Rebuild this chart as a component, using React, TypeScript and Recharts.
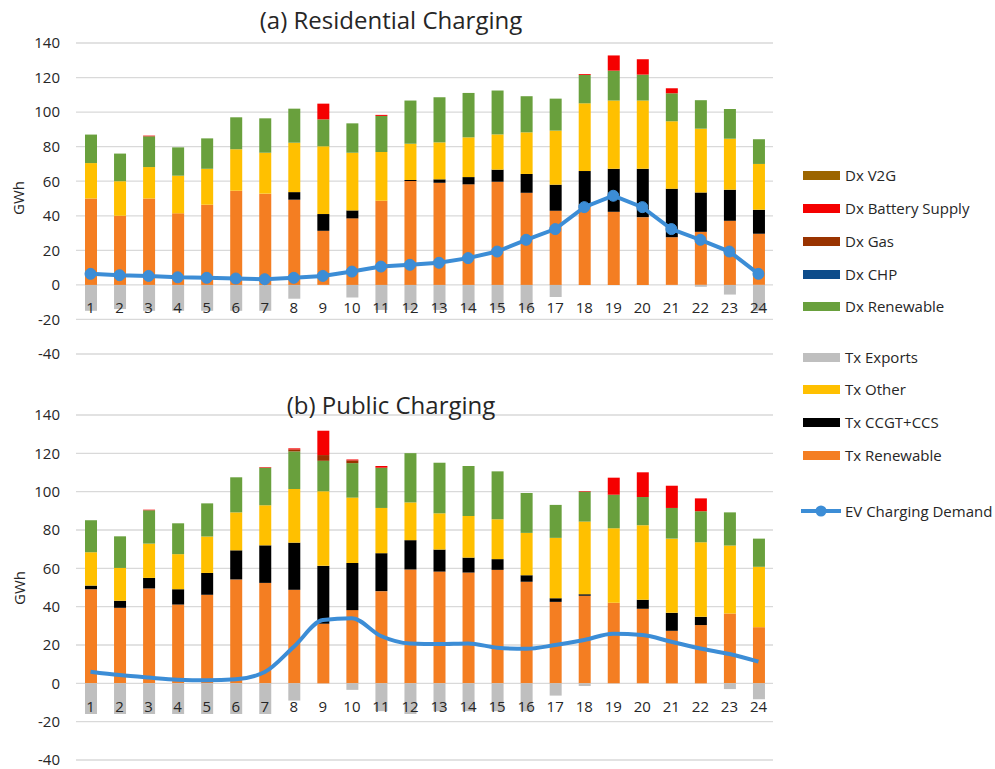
import React from 'react';
import { ComposedChart, Bar, Line, XAxis, YAxis, CartesianGrid } from 'recharts';

const hours = ['1','2','3','4','5','6','7','8','9','10','11','12','13','14','15','16','17','18','19','20','21','22','23','24'];
const yTicks = [-40, -20, 0, 20, 40, 60, 80, 100, 120, 140];

// (a) Residential Charging
const resTxRenewable = [50, 40, 50, 41.4, 46.4, 54.5, 52.8, 49.3, 31.3, 38.5, 48.7, 60.1, 59.1, 58.2, 59.7, 53.3, 42.9, 45.4, 42.3, 39.2, 27.6, 30.7, 37.1, 29.6];
const resTxCCGT = [0, 0, 0, 0, 0, 0, 0, 4.4, 9.7, 4.6, 0, 0.6, 2.0, 4.2, 7.0, 10.9, 15.1, 20.5, 24.9, 28, 28.1, 22.8, 18, 13.9];
const resTxOther = [20.5, 20, 18.2, 21.8, 20.8, 24, 23.7, 28.6, 39.2, 33.4, 28.2, 21, 21.4, 23, 20.4, 24.1, 31.3, 39.2, 39.5, 39.5, 39, 36.9, 29.5, 26.5];
const resTxExports = [-15, -14, -15, -15, -15, -15, -15, -8, 0, -7.3, -14.5, -14.5, -14.5, -14.5, -14.5, -14.5, -7, 0, 0, 0, 0, -1.1, -5.6, -15];
const resDxRenewable = [16.5, 16, 17.8, 16.4, 17.6, 18.5, 19.9, 19.7, 15.6, 17, 20.9, 25, 26.1, 25.7, 25.4, 20.9, 18.5, 16.4, 17.3, 15, 16.2, 16.5, 17.2, 14.3];
const resDxCHP = [0, 0, 0, 0, 0, 0, 0, 0, 0, 0, 0, 0, 0, 0, 0, 0, 0, 0, 0, 0, 0, 0, 0, 0];
const resDxGas = [0, 0, 0, 0, 0, 0, 0, 0, 0, 0, 0, 0, 0, 0, 0, 0, 0, 0, 0, 0, 0, 0, 0, 0];
const resDxBattery = [0, 0, 0.4, 0, 0, 0, 0, 0, 9.1, 0, 0.6, 0, 0, 0, 0, 0, 0, 0.5, 8.8, 8.9, 2.9, 0, 0, 0];
const resDxV2G = [0, 0, 0, 0, 0, 0, 0, 0, 0, 0, 0, 0, 0, 0, 0, 0, 0, 0, 0, 0, 0, 0, 0, 0];
const resDemand = [6.4, 5.6, 5.2, 4.4, 4.1, 3.7, 3.3, 4.1, 5.2, 7.7, 10.6, 11.6, 12.8, 15.5, 19.3, 26.1, 32.3, 45, 51.6, 45, 32.3, 26.1, 19.3, 6.4];

// (b) Public Charging
const pubTxRenewable = [49.1, 39.4, 49.5, 41.1, 46.2, 54.2, 52.4, 48.8, 31.1, 38.2, 48.1, 59.4, 58.3, 57.8, 59.2, 53, 42.5, 45.7, 42, 38.9, 27.4, 30.4, 36.5, 29.3];
const pubTxCCGT = [1.9, 3.7, 5.5, 8, 11.4, 15.2, 19.6, 24.6, 30.2, 24.6, 19.8, 15.3, 11.5, 7.8, 5.6, 3.4, 1.9, 0.8, 0, 4.7, 9.4, 4.3, 0, 0];
const pubTxOther = [17.4, 17.1, 17.9, 18.3, 19, 19.8, 20.9, 28, 38.9, 34.1, 23.6, 19.7, 18.9, 21.7, 20.8, 22.1, 31.5, 37.9, 38.9, 38.9, 38.7, 38.9, 35.4, 31.5];
const pubTxExports = [-16, -16, -16, -16, -16, -16, -16, -9, 0, -3.4, -14.5, -16, -14.5, -14.5, -14.5, -14.5, -6.4, -1.4, 0, 0, 0, 0, -3, -8.3];
const pubDxRenewable = [16.7, 16.5, 17.4, 16.1, 17.3, 18.3, 19.6, 19.6, 15.9, 18, 21, 25.7, 26.4, 26.1, 25, 20.8, 17.2, 15.6, 17.5, 14.7, 16, 16.2, 17.3, 14.7];
const pubDxCHP = [0, 0, 0, 0, 0, 0, 0, 0, 0, 0, 0, 0, 0, 0, 0, 0, 0, 0, 0, 0, 0, 0, 0, 0];
const pubDxGas = [0, 0, 0, 0, 0, 0, 0, 1.0, 3.0, 1.4, 0, 0, 0, 0, 0, 0, 0, 0, 0, 0, 0, 0, 0, 0];
const pubDxBattery = [0, 0, 0.3, 0, 0, 0, 0.3, 0.6, 12.7, 0.5, 0.9, 0, 0, 0, 0, 0, 0, 0.3, 8.9, 12.9, 11.6, 6.7, 0, 0];
const pubDxV2G = [0, 0, 0, 0, 0, 0, 0, 0, 0, 0, 0, 0, 0, 0, 0, 0, 0, 0, 0, 0, 0, 0, 0, 0];
const pubDemand = [6.1, 4.3, 3.0, 1.9, 1.6, 2.1, 5.9, 19.1, 33, 34, 24.7, 20.8, 20.5, 20.8, 18.6, 18, 20, 22.6, 25.9, 25.2, 21.7, 18.2, 15.3, 11.3];

const COLORS = {
  v2g: '#9C6500',
  battery: '#F50000',
  gas: '#993300',
  chp: '#0D4C8A',
  dxRen: '#69A03D',
  exports: '#BFBFBF',
  other: '#FFC000',
  ccgt: '#000000',
  txRen: '#F47E22',
  demand: '#3C8DD6',
};

const FONT = "'Open Sans', 'Noto Sans', sans-serif";

function build(txRen: number[], ccgt: number[], other: number[], exp: number[], dxRen: number[], chp: number[], gas: number[], batt: number[], v2g: number[], demand: number[]) {
  return hours.map((h, i) => ({
    hour: h,
    txRen: txRen[i],
    ccgt: ccgt[i],
    other: other[i],
    exports: exp[i],
    dxRen: dxRen[i],
    chp: chp[i],
    gas: gas[i],
    battery: batt[i],
    v2g: v2g[i],
    demand: demand[i],
  }));
}

const resData = build(resTxRenewable, resTxCCGT, resTxOther, resTxExports, resDxRenewable, resDxCHP, resDxGas, resDxBattery, resDxV2G, resDemand);
const pubData = build(pubTxRenewable, pubTxCCGT, pubTxOther, pubTxExports, pubDxRenewable, pubDxCHP, pubDxGas, pubDxBattery, pubDxV2G, pubDemand);

function makeTick(offset: number) {
  return (props: any) => {
    const { x, y, payload } = props;
    return (
      <text x={x} y={y - offset} textAnchor="middle" dominantBaseline="central" fontSize={15} fill="#262626" fontFamily={FONT}>
        {payload.value}
      </text>
    );
  };
}

type PanelProps = {
  data: any[];
  top: number;
  height: number;
  marginTop: number;
  axisHeight: number;
  tickOffset: number;
  smooth: boolean;
};

function Panel({ data, top, height, marginTop, axisHeight, tickOffset, smooth }: PanelProps) {
  return (
    <div style={{ position: 'absolute', left: 0, top }}>
      <ComposedChart
        width={790}
        height={height}
        data={data}
        stackOffset="sign"
        barSize={12}
        margin={{ top: marginTop, right: 17, bottom: 0, left: 16 }}
      >
        <CartesianGrid vertical={false} stroke="#D9D9D9" strokeWidth={1.3} />
        <YAxis
          domain={[-40, 140]}
          ticks={yTicks}
          width={60}
          axisLine={false}
          tickLine={false}
          tickSize={0}
          tickMargin={16}
          tick={{ fontSize: 15, fill: '#262626', fontFamily: FONT }}
        />
        <Bar dataKey="txRen" stackId="s" fill={COLORS.txRen} isAnimationActive={false} />
        <Bar dataKey="ccgt" stackId="s" fill={COLORS.ccgt} isAnimationActive={false} />
        <Bar dataKey="other" stackId="s" fill={COLORS.other} isAnimationActive={false} />
        <Bar dataKey="exports" stackId="s" fill={COLORS.exports} isAnimationActive={false} />
        <Bar dataKey="dxRen" stackId="s" fill={COLORS.dxRen} isAnimationActive={false} />
        <Bar dataKey="chp" stackId="s" fill={COLORS.chp} isAnimationActive={false} />
        <Bar dataKey="gas" stackId="s" fill={COLORS.gas} isAnimationActive={false} />
        <Bar dataKey="battery" stackId="s" fill={COLORS.battery} isAnimationActive={false} />
        <Bar dataKey="v2g" stackId="s" fill={COLORS.v2g} isAnimationActive={false} />
        <Line
          dataKey="demand"
          type={smooth ? 'monotone' : 'linear'}
          stroke={COLORS.demand}
          strokeWidth={4}
          dot={smooth ? false : { r: 5.5, fill: COLORS.demand, stroke: COLORS.demand, strokeWidth: 1 }}
          activeDot={false}
          isAnimationActive={false}
        />
        <XAxis
          dataKey="hour"
          height={axisHeight}
          axisLine={false}
          tickLine={false}
          tickSize={0}
          tickMargin={0}
          interval={0}
          tick={makeTick(tickOffset)}
        />
      </ComposedChart>
    </div>
  );
}

const legendItems = [
  { label: 'Dx V2G', color: COLORS.v2g, y: 175 },
  { label: 'Dx Battery Supply', color: COLORS.battery, y: 208 },
  { label: 'Dx Gas', color: COLORS.gas, y: 241 },
  { label: 'Dx CHP', color: COLORS.chp, y: 274 },
  { label: 'Dx Renewable', color: COLORS.dxRen, y: 306 },
  { label: 'Tx Exports', color: COLORS.exports, y: 357 },
  { label: 'Tx Other', color: COLORS.other, y: 389 },
  { label: 'Tx CCGT+CCS', color: COLORS.ccgt, y: 422 },
  { label: 'Tx Renewable', color: COLORS.txRen, y: 455 },
];

export default function App() {
  return (
    <div style={{ position: 'absolute', left: 0, top: 0, width: 995, height: 769, background: '#fff', fontFamily: FONT, color: '#262626' }}>
      <Panel data={resData} top={0} height={370} marginTop={43} axisHeight={16} tickOffset={47} smooth={false} />
      <Panel data={pubData} top={380} height={389} marginTop={35} axisHeight={9} tickOffset={54} smooth={true} />

      <div style={{ position: 'absolute', left: 141, top: 5, width: 500, textAlign: 'center', fontSize: 24, lineHeight: '30px', whiteSpace: 'nowrap' }}>
        (a) Residential Charging
      </div>
      <div style={{ position: 'absolute', left: 141, top: 390, width: 500, textAlign: 'center', fontSize: 24, lineHeight: '30px', whiteSpace: 'nowrap' }}>
        (b) Public Charging
      </div>

      <div style={{ position: 'absolute', left: 18, top: 198, transform: 'translate(-50%, -50%) rotate(-90deg)', fontSize: 15, lineHeight: '20px', whiteSpace: 'nowrap' }}>
        GWh
      </div>
      <div style={{ position: 'absolute', left: 19, top: 588, transform: 'translate(-50%, -50%) rotate(-90deg)', fontSize: 15, lineHeight: '20px', whiteSpace: 'nowrap' }}>
        GWh
      </div>

      {legendItems.map((it) => (
        <div key={it.label} style={{ position: 'absolute', left: 803, top: it.y - 10, height: 20, display: 'flex', alignItems: 'center', whiteSpace: 'nowrap' }}>
          <div style={{ width: 37, height: 9, background: it.color }} />
          <span style={{ marginLeft: 5, fontSize: 15, lineHeight: '20px' }}>{it.label}</span>
        </div>
      ))}
      <div style={{ position: 'absolute', left: 800, top: 501, height: 20, display: 'flex', alignItems: 'center', whiteSpace: 'nowrap' }}>
        <svg width={42} height={20} style={{ display: 'block' }}>
          <line x1={1} y1={10} x2={41} y2={10} stroke={COLORS.demand} strokeWidth={4} />
          <circle cx={21} cy={10} r={5.5} fill={COLORS.demand} />
        </svg>
        <span style={{ marginLeft: 3, fontSize: 15, lineHeight: '20px' }}>EV Charging Demand</span>
      </div>
    </div>
  );
}
